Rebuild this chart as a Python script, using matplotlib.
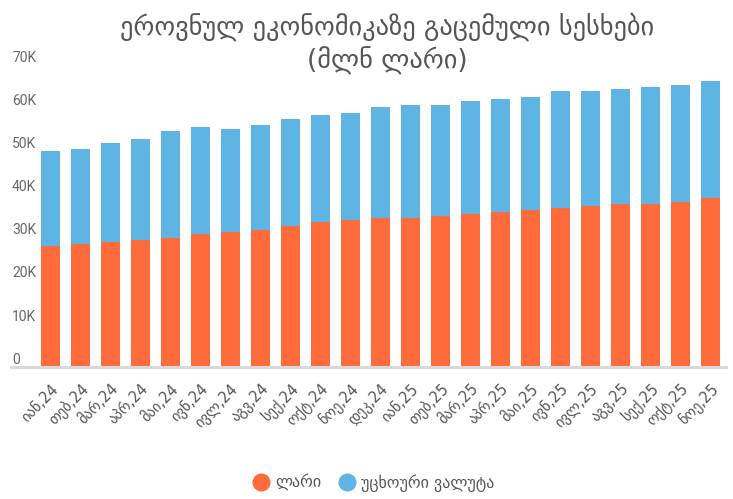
import numpy as np
import matplotlib.pyplot as plt
import matplotlib.transforms as mtransforms
from matplotlib import font_manager
from matplotlib.lines import Line2D

# თვეები
tveebi = ["იან,24", "თებ,24", "მარ,24", "აპრ,24", "მაი,24", "ივნ,24",
          "ივლ,24", "აგვ,24", "სექ,24", "ოქტ,24", "ნოე,24", "დეკ,24",
          "იან,25", "თებ,25", "მარ,25", "აპრ,25", "მაი,25", "ივნ,25",
          "ივლ,25", "აგვ,25", "სექ,25", "ოქტ,25", "ნოე,25"]

# სესხები, მლნ ლარი
lari = [28100, 28600, 29100, 29550, 30000, 30900, 31400, 31850, 32800,
        33700, 34200, 34600, 34600, 35100, 35600, 36050, 36500, 37000,
        37450, 37900, 37900, 38400, 39300]
utskhouri = [22100, 22050, 22900, 23450, 24800, 24850, 23900, 24350, 24800,
             24850, 24800, 25800, 26250, 25750, 26200, 26250, 26200, 27100,
             26650, 26700, 27100, 27100, 27100]

y_ticks = [0, 10000, 20000, 30000, 40000, 50000, 60000, 70000]
y_labels = ["0", "10K", "20K", "30K", "40K", "50K", "60K", "70K"]

feri_lari = "#FF6B3B"
feri_val = "#5EB5E4"
feri_text = "#555555"

plt.rcParams["font.family"] = ["DejaVu Sans"]

# ვიწრო შრიფტი ღერძის ციფრებისთვის, თუ არის
vitsro = "DejaVu Sans"
saxelebi = {f.name for f in font_manager.fontManager.ttflist}
for s in ["Liberation Sans Narrow", "DejaVu Sans Condensed", "Roboto"]:
    if s in saxelebi:
        vitsro = s
        break

fig = plt.figure(figsize=(7.33, 4.99), dpi=100)
ax = fig.add_axes([0.0150, 0.2639, 0.9755, 0.6046])

x = np.arange(len(tveebi))
siganie = 0.633
ax.bar(x, lari, siganie, color=feri_lari, label="ლარი")
ax.bar(x, utskhouri, siganie, bottom=lari, color=feri_val,
       label="უცხოური ვალუტა")

ax.set_xlim(-1.317, 22.517)
ax.set_ylim(0, 70000)

for s in ["top", "right", "left"]:
    ax.spines[s].set_visible(False)
ax.spines["bottom"].set_color("#D9D9D9")
ax.spines["bottom"].set_linewidth(2.2)

# x ღერძი
ax.set_xticks(x, tveebi, rotation=45, ha="right", va="top",
              rotation_mode="anchor", fontsize=10.5, color=feri_text)
ax.tick_params(axis="x", length=0, pad=10)

# y ღერძი - ციფრები ხაზის ზემოთ, მარცხნივ
ax.set_yticks(y_ticks, y_labels, fontsize=10, color="#666666",
              family=vitsro)
ax.tick_params(axis="y", length=0, pad=-0.8)
zemot = mtransforms.ScaledTranslation(0, 0.5 / 72, fig.dpi_scale_trans)
for lab in ax.get_yticklabels():
    lab.set_ha("left")
    lab.set_va("bottom")
    lab.set_transform(lab.get_transform() + zemot)

# სათაური
fig.text(387 / 733, 1 - 27 / 499, "ეროვნულ ეკონომიკაზე გაცემული სესხები",
         ha="center", va="center", fontsize=19, color=feri_text)
fig.text(387 / 733, 1 - 61 / 499, "(მლნ ლარი)",
         ha="center", va="center", fontsize=19, color=feri_text)

# ლეგენდა
nishnebi = [Line2D([], [], marker="o", linestyle="", markersize=12,
                   markerfacecolor=feri_lari, markeredgecolor=feri_lari),
            Line2D([], [], marker="o", linestyle="", markersize=12,
                   markerfacecolor=feri_val, markeredgecolor=feri_val)]
leg = fig.legend(nishnebi, ["ლარი", "უცხოური ვალუტა"], loc="center",
                 bbox_to_anchor=(373 / 733, 1 - 483 / 499), ncol=2,
                 frameon=False, fontsize=11.5, handletextpad=0.3,
                 columnspacing=1.0, handlelength=1.2)
for t in leg.get_texts():
    t.set_color(feri_text)

fig.savefig("out.png", dpi=100)
plt.close(fig)
